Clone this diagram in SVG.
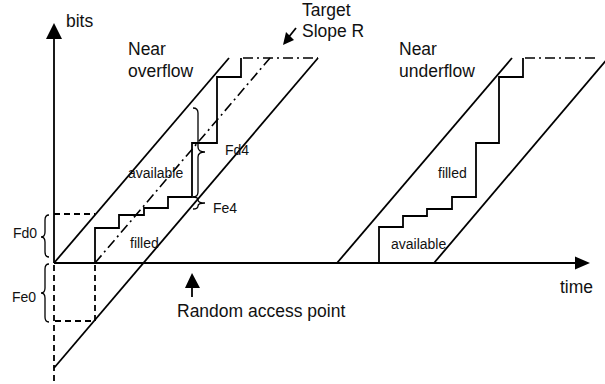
<svg xmlns="http://www.w3.org/2000/svg" width="605" height="384" viewBox="0 0 605 384">
<style>
  .ln { stroke:#000; stroke-width:1.8; fill:none; }
  .dash { stroke:#000; stroke-width:1.8; fill:none; stroke-dasharray:6 4; }
  .dd { stroke:#000; stroke-width:1.6; fill:none; stroke-dasharray:10 4 2 4; }
  .br { stroke:#000; stroke-width:1.3; fill:none; }
  .head { fill:#000; stroke:none; }
  .big { font-family:"Liberation Sans", Arial, sans-serif; font-size:17.5px; fill:#111; }
  .sm { font-family:"Liberation Sans", Arial, sans-serif; font-size:14px; fill:#111; }
</style>
<rect width="605" height="384" fill="#fff"/>

<g id="axes">
  <line class="ln" x1="54" y1="263" x2="54" y2="37"/>
  <polygon class="head" points="54,23 46,39 62,39"/>
  <line class="ln" x1="54" y1="263" x2="577" y2="263"/>
  <polygon class="head" points="590,263 575,256.5 575,269.5"/>
  <line class="dash" x1="54" y1="265" x2="54" y2="382"/>
  <text class="big" x="66" y="27">bits</text>
  <text class="big" x="560" y="293">time</text>
</g>

<g id="overflow">
  <line class="ln" x1="54" y1="263" x2="229" y2="58"/>
  <line class="ln" x1="54" y1="368" x2="318" y2="58"/>
  <path class="ln" d="M95,263 V228 H119 V215 H144 V208 H168 V197 H192 V143 H217 V77 H241 V58"/>
  <path class="dd" d="M95,263 L270,58"/>
  <path class="dd" d="M243,58 H318"/>
  <path class="dash" d="M54,214 H95"/>
  <path class="dash" d="M95,265 V321 H54"/>
  <text class="big" x="128" y="55">Near</text>
  <text class="big" x="128" y="77">overflow</text>
  <text class="sm" x="128" y="178">available</text>
  <text class="sm" x="130" y="248">filled</text>
</g>

<g id="braces">
  <path class="br" d="M49,215 Q45,215 45,220 L45,232 Q45,237 41,237 Q45,237 45,242 L45,252 Q45,257 49,257"/>
  <path class="br" d="M49,264 Q45,264 45,269 L45,288 Q45,293 41,293 Q45,293 45,298 L45,317 Q45,322 49,322"/>
  <path class="br" d="M193,108 Q198,108 198,113 L198,147 Q198,152 205,152 Q198,152 198,157 L198,192 Q198,197 193,197"/>
  <path class="br" d="M193,197 Q198,197 198,200 Q198,203 205,203 Q198,203 198,206 Q198,209 193,209"/>
  <text class="sm" x="13" y="238">Fd0</text>
  <text class="sm" x="12" y="302">Fe0</text>
  <text class="sm" x="225" y="155">Fd4</text>
  <text class="sm" x="213" y="213">Fe4</text>
</g>

<g id="underflow">
  <line class="ln" x1="337" y1="263" x2="512" y2="58"/>
  <line class="ln" x1="434" y1="263" x2="608" y2="58"/>
  <path class="ln" d="M379,263 V227 H403 V216 H427 V209 H452 V197 H476 V143 H499 V77 H523 V58"/>
  <path class="dd" d="M525,58 H596"/>
  <text class="big" x="399" y="55">Near</text>
  <text class="big" x="399" y="77">underflow</text>
  <text class="sm" x="438" y="178">filled</text>
  <text class="sm" x="391" y="249">available</text>
</g>

<g id="target">
  <line class="ln" x1="296" y1="28" x2="288" y2="38"/>
  <polygon class="head" points="283,45 294,40 286,32"/>
  <text class="big" x="302" y="16">Target</text>
  <text class="big" x="302" y="37">Slope R</text>
</g>

<g id="random-access">
  <polygon class="head" points="192,273 185,288 200,288"/>
  <line class="ln" x1="192" y1="287" x2="192" y2="297"/>
  <text class="big" x="177" y="317">Random access point</text>
</g>
</svg>
